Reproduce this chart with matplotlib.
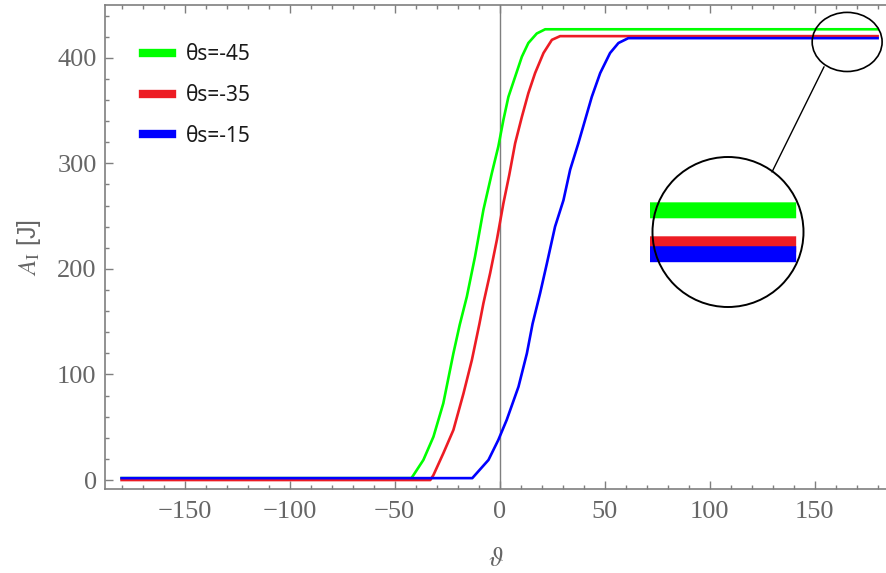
import matplotlib
matplotlib.use('Agg')
import matplotlib.pyplot as plt
from matplotlib.patches import Ellipse, ConnectionPatch
from matplotlib.ticker import MultipleLocator

# curvas (theta en grados, A_I en J)
x_45 = [-180, -42, -41.0, -36.3, -31.5, -26.8, -22.0, -19.0, -15.6, -11.7, -7.7,
        -3.7, -0.6, 1.8, 4.2, 7.4, 10.6, 13.7, 17.7, 21.7, 180]
y_45 = [1.8, 1.8, 4.7, 19, 41, 72.7, 120, 147, 173.7, 211.7, 256,
        290.7, 316, 341, 363, 382, 401, 414, 423, 427, 427]

x_35 = [-180, -33, -31.5, -26.8, -22.0, -17.2, -13.2, -9.6, -7.7, -4.5, -1.3,
        1.8, 4.6, 7.4, 10.6, 13.7, 16.9, 20.9, 24.9, 28.8, 180]
y_35 = [0, 0, 4.7, 25.3, 47.4, 82, 113.7, 148, 167.5, 196, 227.5,
        262, 289, 319, 344, 366.5, 385.5, 404.5, 417, 420.5, 420.5]

x_15 = [-180, -13, -11.7, -5.3, -0.6, 3.4, 9.0, 13.0, 15.7, 19.3, 22.5, 26.4,
        30.4, 33.6, 37.5, 40.7, 43.9, 47.9, 52.6, 56.6, 61.3, 180]
y_15 = [1.8, 1.8, 4.7, 19, 38, 57, 88.4, 120, 148, 177, 205, 240,
        265, 294, 319, 341, 363, 385.5, 404.5, 414, 418.6, 418.6]

series = [
    (x_45, y_45, '#00ff00', 'θs=-45'),
    (x_35, y_35, '#ed1c24', 'θs=-35'),
    (x_15, y_15, '#0000ff', 'θs=-15'),
]

GRIS = '#7f7f7f'
TXT = '#666666'

plt.rcParams['mathtext.fontset'] = 'stix'

fig = plt.figure(figsize=(8.86, 5.73), dpi=100)
ax = fig.add_axes([105 / 886, 1 - 489 / 573, 1 - 105 / 886, (489 - 5) / 573])

for x, y, c, lab in series:
    ax.plot(x, y, color=c, lw=1.9, label=lab)

ax.axvline(0, color=GRIS, lw=1.0, zorder=1)

ax.set_xlim(-187.9, 184)
ax.set_ylim(-8.5, 450)

# ejes estilo Mathematica
for s in ['left', 'bottom', 'top']:
    ax.spines[s].set_color(GRIS)
    ax.spines[s].set_linewidth(1.2)
ax.spines['right'].set_visible(False)

ax.xaxis.set_major_locator(MultipleLocator(50))
ax.xaxis.set_minor_locator(MultipleLocator(10))
ax.yaxis.set_major_locator(MultipleLocator(100))
ax.yaxis.set_minor_locator(MultipleLocator(20))
ax.tick_params(which='both', direction='in', top=True, right=False, color=GRIS, width=1)
ax.tick_params(which='major', length=5.5)
ax.tick_params(which='minor', length=3)
ax.tick_params(axis='x', pad=9)
ax.tick_params(axis='y', pad=6)
for t in ax.get_xticklabels() + ax.get_yticklabels():
    t.set_family('Liberation Serif')
    t.set_fontsize(19)
    t.set_color(TXT)

ax.set_xlabel(r'$\vartheta$', fontsize=19, color=TXT, labelpad=16)
ax.set_ylabel(r'$A_{\mathrm{I}}$ [J]', fontsize=18, color=TXT, labelpad=10,
              family='Liberation Sans')

leg = ax.legend(loc='upper left', bbox_to_anchor=(143 / 886, 1 - 44 / 573),
                bbox_transform=fig.transFigure, frameon=False,
                borderpad=0, borderaxespad=0, handlelength=1.4,
                handletextpad=0.65, labelspacing=0.95,
                prop={'family': 'Noto Sans', 'size': 15})
for h in leg.legend_handles:
    h.set_linewidth(6)
for t in leg.get_texts():
    t.set_color('#1a1a1a')

# lupa: vista ampliada del final de las curvas
ins = fig.add_axes([650 / 886, 1 - 307 / 573, 153 / 886, 150 / 573])
for x, y, c, lab in series:
    ins.plot(x, y, color=c, lw=11.5, solid_capstyle='butt')
ins.set_xlim(150, 181.4)
ins.set_ylim(408.5, 437.2)
ins.axis('off')
ins.patch.set_alpha(0)

big = Ellipse((728 / 886, 1 - 232 / 573), 151 / 886, 150 / 573,
              transform=fig.transFigure, fill=False, ec='black', lw=1.4, zorder=10)
fig.add_artist(big)

small = Ellipse((165.5, 415), 33.3, 56, fill=False, ec='black', lw=1.2, zorder=10)
ax.add_patch(small)

con = ConnectionPatch(xyA=(154.5, 391.5), coordsA='data', axesA=ax,
                      xyB=(772 / 886, 1 - 172 / 573), coordsB='figure fraction',
                      color='black', lw=1.0, zorder=10)
fig.add_artist(con)

fig.savefig('out.png', dpi=100)
